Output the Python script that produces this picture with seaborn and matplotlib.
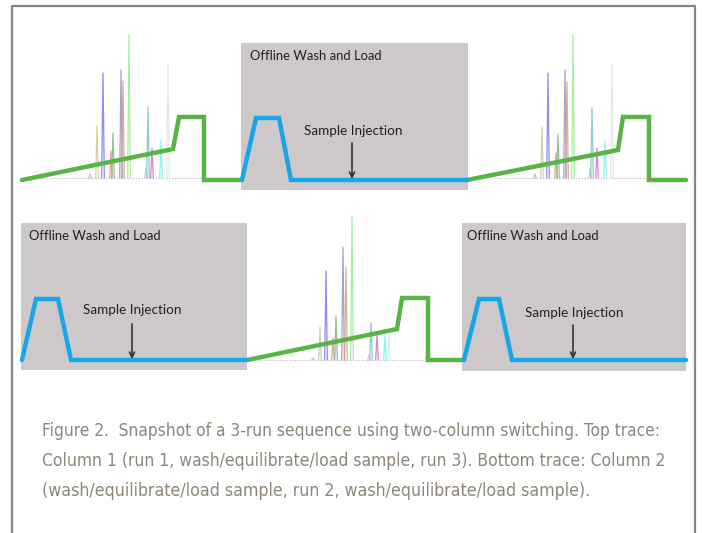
import matplotlib
matplotlib.use('Agg')
import matplotlib.pyplot as plt
import matplotlib.patches as mpatches
from matplotlib import font_manager
import seaborn as sns
import pandas as pd

sns.set_theme(style='white')

# --- data (time along x, detector/gradient level along y) ---
# top trace (column 1): run 1 gradient, offline wash box, run 3 gradient
run1_time = [22, 173, 179, 204, 204, 242]
run1_level = [180, 149, 117, 117, 180, 180]
wash_top_time = [242, 256, 279, 291, 467]
wash_top_level = [180, 118, 118, 180, 180]
run3_time = [467, 618, 623, 649, 649, 686]
run3_level = [180, 150, 117, 117, 180, 180]

# bottom trace (column 2): wash box, run 2 gradient, wash box
wash_bl_time = [22, 36, 58, 71, 247]
wash_bl_level = [360, 299, 299, 360, 360]
run2_time = [247, 397, 402, 428, 428, 463]
run2_level = [360, 329, 298, 298, 360, 360]
wash_br_time = [464, 479, 499, 512, 686]
wash_br_level = [360, 299, 299, 360, 360]

# chromatogram peaks (retention, apex) for each run
peak_colors = ['#e7a0c8', '#cfc69a', '#7878f0', '#f08a8a', '#80b880', '#9090d8',
               '#d8a070', '#90ee90', '#f0a8f0', '#78c4c4', '#d070d0', '#70f4f4', '#dce8dc']
run1_peak_time = [90, 97, 103, 111, 113, 121, 123, 129, 146, 148, 152, 161, 168]
run1_peak_apex = [174, 126, 73, 151, 133, 70, 81, 35, 168, 107, 148, 140, 63]
run3_peak_time = [535, 542, 548, 556, 558, 565, 567, 573, 590, 592, 597, 605, 612]
run3_peak_apex = [174, 127, 73, 153, 134, 70, 82, 35, 168, 108, 148, 141, 64]
run2_peak_time = [313, 320, 326, 333, 336, 343, 346, 352, 369, 371, 377, 385, 389]
run2_peak_apex = [358, 327, 271, 338, 316, 247, 267, 217, 355, 323, 335, 335, 333]

# offline wash boxes: (start, end, top, bottom)
box_start = [241, 21, 462]
box_end = [468, 247, 686]
box_top = [43, 223, 223]
box_bottom = [190, 370, 371]
box_label_x = [250, 29, 467]
box_label_y = [56, 236, 236]
inject_x = [352, 132, 573]
inject_label_x = [353, 132, 574]
inject_label_y = [131, 310, 313]
inject_arrow_top = [143, 324, 325]
inject_arrow_tip = [179, 359, 359]

caption = ['Figure 2.  Snapshot of a 3-run sequence using two-column switching. Top trace:',
           'Column 1 (run 1, wash/equilibrate/load sample, run 3). Bottom trace: Column 2',
           '(wash/equilibrate/load sample, run 2, wash/equilibrate/load sample).']
caption_width = [621, 625, 551]

GREEN = '#5ab445'
BLUE = '#18a6e6'
BOX = '#ccc9c8'
FRAME = '#8c8477'
CAPTION = '#8d8679'


def narrow_font():
    fonts = [(f.name, f.stretch) for f in font_manager.fontManager.ttflist]
    if any(n == 'Liberation Sans Narrow' for n, s in fonts):
        return dict(family='Liberation Sans Narrow')
    if ('DejaVu Sans', 'condensed') in fonts:
        return dict(family='DejaVu Sans', fontstretch='condensed')
    return dict(family='DejaVu Sans')


def fit_text(ax, fig, x, y, s, width, start=12, **kw):
    t = ax.text(x, y, s, fontsize=start, **kw)
    fig.canvas.draw()
    w = t.get_window_extent().width
    t.set_fontsize(start * width / w)
    return t


fig = plt.figure(figsize=(7.02, 5.33), dpi=100)
ax = fig.add_axes([0, 0, 1, 1])
ax.set_xlim(0, 702)
ax.set_ylim(533, 0)
ax.axis('off')

# frame (open at the bottom)
ax.plot([12, 12, 695, 695], [533, 6, 6, 533], color=FRAME, lw=1.6, zorder=1)

# wash boxes
for x0, x1, y0, y1 in zip(box_start, box_end, box_top, box_bottom):
    ax.add_patch(mpatches.Rectangle((x0, y0), x1 - x0, y1 - y0, facecolor=BOX,
                                    edgecolor='none', zorder=2))

# chromatograms
for times, apexes, base, span in [(run1_peak_time, run1_peak_apex, 178, (30, 201)),
                                  (run3_peak_time, run3_peak_apex, 178, (495, 646)),
                                  (run2_peak_time, run2_peak_apex, 360, (250, 426))]:
    ax.plot(span, [base, base], color='#b8b8b8', lw=0.8, ls=(0, (1, 1.5)), zorder=3)
    for t, a, c in zip(times, apexes, peak_colors):
        ax.plot([t - 1.3, t, t + 1.3], [base, a, base], color=c, lw=0.9, alpha=0.85, zorder=3)

# gradient / wash traces
segments = [(run1_time, run1_level, GREEN), (run3_time, run3_level, GREEN),
            (run2_time, run2_level, GREEN), (wash_top_time, wash_top_level, BLUE),
            (wash_bl_time, wash_bl_level, BLUE), (wash_br_time, wash_br_level, BLUE)]
for times, levels, col in segments:
    df = pd.DataFrame({'time': times, 'level': levels})
    sns.lineplot(data=df, x='time', y='level', ax=ax, color=col, lw=3.2,
                 sort=False, estimator=None, zorder=5, solid_joinstyle='miter')
ax.set_xlim(0, 702)
ax.set_ylim(533, 0)
ax.axis('off')

# labels and injection arrows
for bx, by in zip(box_label_x, box_label_y):
    fit_text(ax, fig, bx, by, 'Offline Wash and Load', 131, family='Lato',
             color='#231f20', ha='left', va='center', zorder=6)
for lx, ly, ax_x, a0, a1 in zip(inject_label_x, inject_label_y, inject_x,
                                inject_arrow_top, inject_arrow_tip):
    fit_text(ax, fig, lx, ly, 'Sample Injection', 98, family='Lato',
             color='#231f20', ha='center', va='center', zorder=6)
    ax.annotate('', xy=(ax_x, a1), xytext=(ax_x, a0),
                arrowprops=dict(arrowstyle='->', color='#333333', lw=1.2,
                                mutation_scale=9, shrinkA=0, shrinkB=0), zorder=6)

# caption
nf = narrow_font()
for i, (line, w) in enumerate(zip(caption, caption_width)):
    fit_text(ax, fig, 42, 436 + 30 * i, line, w, start=14, color=CAPTION,
             ha='left', va='baseline', **nf)

fig.savefig('out.png', dpi=100, facecolor='white')
